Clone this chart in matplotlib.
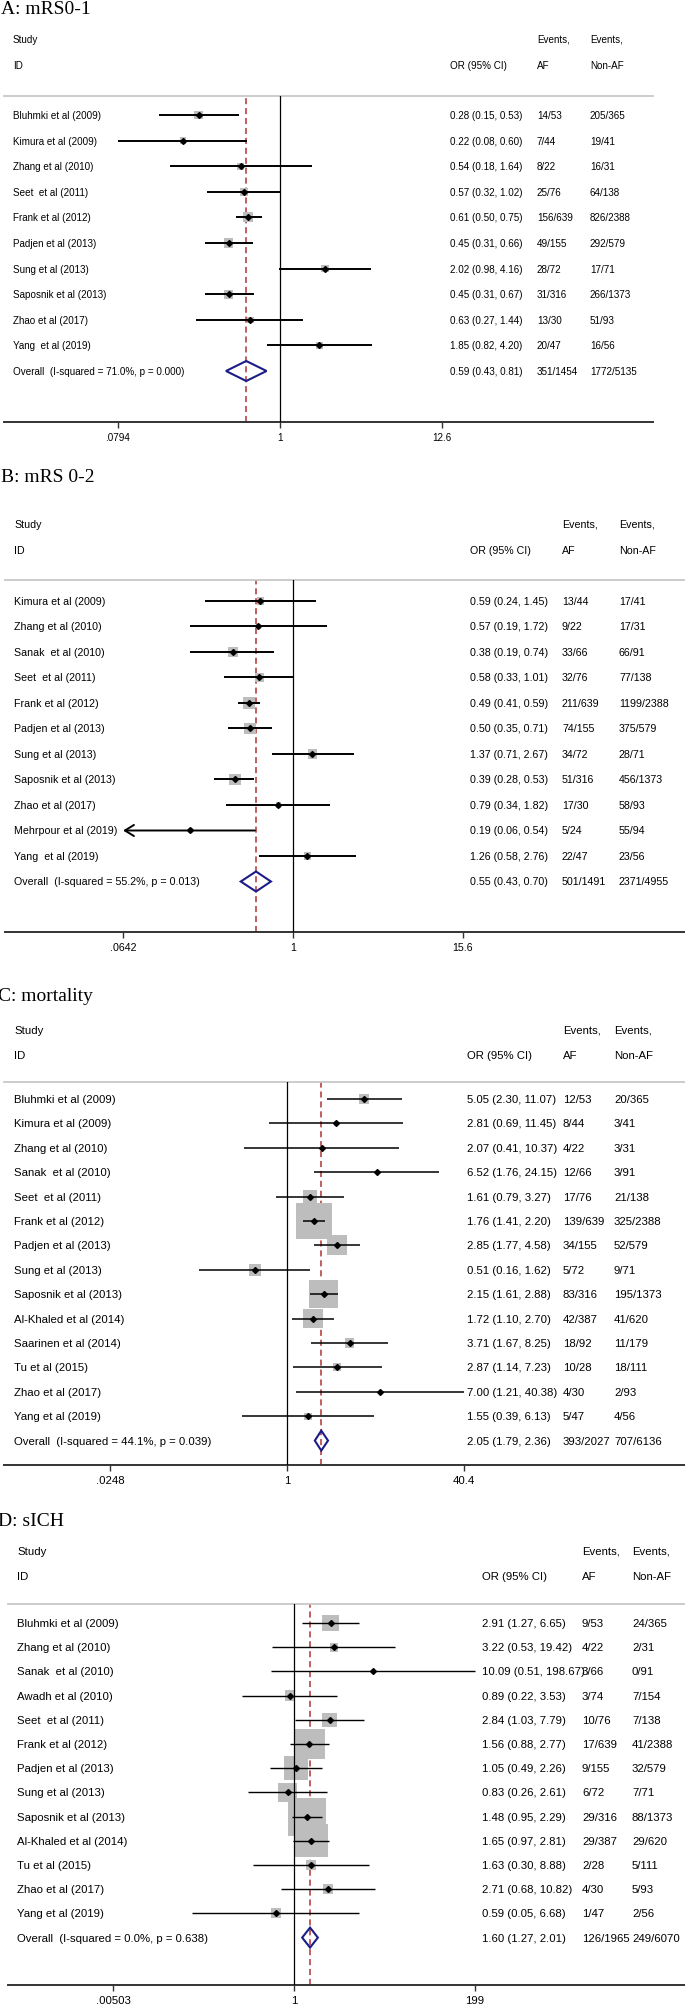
import numpy as np
import matplotlib.pyplot as plt
from matplotlib import transforms
from matplotlib.patches import Polygon

W, H, DPI = 685, 2008, 100
SANS = "Liberation Sans"
SERIF = "Liberation Serif"
BOX_GREY = "#bdbdbd"
RED = "#b03434"
NAVY = "#1c1c86"

# ---------------- A: mRS 0-1 ----------------
a_studies = ["Bluhmki et al (2009)", "Kimura et al (2009)", "Zhang et al (2010)", "Seet  et al (2011)",
             "Frank et al (2012)", "Padjen et al (2013)", "Sung et al (2013)", "Saposnik et al (2013)",
             "Zhao et al (2017)", "Yang  et al (2019)"]
a_or = [0.28, 0.22, 0.54, 0.57, 0.61, 0.45, 2.02, 0.45, 0.63, 1.85]
a_lo = [0.15, 0.08, 0.18, 0.32, 0.50, 0.31, 0.98, 0.31, 0.27, 0.82]
a_hi = [0.53, 0.60, 1.64, 1.02, 0.75, 0.66, 4.16, 0.67, 1.44, 4.20]
a_af = ["14/53", "7/44", "8/22", "25/76", "156/639", "49/155", "28/72", "31/316", "13/30", "20/47"]
a_naf = ["205/365", "19/41", "16/31", "64/138", "826/2388", "292/579", "17/71", "266/1373", "51/93", "16/56"]
a_wt = [11.7, 6.7, 7.8, 8.9, 15.9, 12.9, 8.9, 12.9, 6.7, 7.8]
a_overall = [0.59, 0.43, 0.81]
a_overall_events = ["351/1454", "1772/5135"]
a_het = [71.0, 0.000]
a_ticks = [0.0794, 1, 12.6]
a_ticklabels = [".0794", "1", "12.6"]

# ---------------- B: mRS 0-2 ----------------
b_studies = ["Kimura et al (2009)", "Zhang et al (2010)", "Sanak  et al (2010)", "Seet  et al (2011)",
             "Frank et al (2012)", "Padjen et al (2013)", "Sung et al (2013)", "Saposnik et al (2013)",
             "Zhao et al (2017)", "Mehrpour et al (2019)", "Yang  et al (2019)"]
b_or = [0.59, 0.57, 0.38, 0.58, 0.49, 0.50, 1.37, 0.39, 0.79, 0.19, 1.26]
b_lo = [0.24, 0.19, 0.19, 0.33, 0.41, 0.35, 0.71, 0.28, 0.34, 0.06, 0.58]
b_hi = [1.45, 1.72, 0.74, 1.01, 0.59, 0.71, 2.67, 0.53, 1.82, 0.54, 2.76]
b_af = ["13/44", "9/22", "33/66", "32/76", "211/639", "74/155", "34/72", "51/316", "17/30", "5/24", "22/47"]
b_naf = ["17/41", "17/31", "66/91", "77/138", "1199/2388", "375/579", "28/71", "456/1373", "58/93", "55/94", "23/56"]
b_wt = [6.3, 2.8, 10.4, 8.8, 17.1, 15.7, 10.4, 15.7, 3.7, 2.7, 6.3]
b_overall = [0.55, 0.43, 0.70]
b_overall_events = ["501/1491", "2371/4955"]
b_het = [55.2, 0.013]
b_ticks = [0.0642, 1, 15.6]
b_ticklabels = [".0642", "1", "15.6"]

# ---------------- C: mortality ----------------
c_studies = ["Bluhmki et al (2009)", "Kimura et al (2009)", "Zhang et al (2010)", "Sanak  et al (2010)",
             "Seet  et al (2011)", "Frank et al (2012)", "Padjen et al (2013)", "Sung et al (2013)",
             "Saposnik et al (2013)", "Al-Khaled et al (2014)", "Saarinen et al (2014)", "Tu et al (2015)",
             "Zhao et al (2017)", "Yang et al (2019)"]
c_or = [5.05, 2.81, 2.07, 6.52, 1.61, 1.76, 2.85, 0.51, 2.15, 1.72, 3.71, 2.87, 7.00, 1.55]
c_lo = [2.30, 0.69, 0.41, 1.76, 0.79, 1.41, 1.77, 0.16, 1.61, 1.10, 1.67, 1.14, 1.21, 0.39]
c_hi = [11.07, 11.45, 10.37, 24.15, 3.27, 2.20, 4.58, 1.62, 2.88, 2.70, 8.25, 7.23, 40.38, 6.13]
c_af = ["12/53", "8/44", "4/22", "12/66", "17/76", "139/639", "34/155", "5/72", "83/316", "42/387",
        "18/92", "10/28", "4/30", "5/47"]
c_naf = ["20/365", "3/41", "3/31", "3/91", "21/138", "325/2388", "52/579", "9/71", "195/1373", "41/620",
         "11/179", "18/111", "2/93", "4/56"]
c_wt = [2.7, 0.5, 0.2, 0.3, 5.4, 37.6, 11.0, 3.8, 22.3, 10.7, 2.3, 1.7, 0.2, 1.5]
c_overall = [2.05, 1.79, 2.36]
c_overall_events = ["393/2027", "707/6136"]
c_het = [44.1, 0.039]
c_ticks = [0.0248, 1, 40.4]
c_ticklabels = [".0248", "1", "40.4"]

# ---------------- D: sICH ----------------
d_studies = ["Bluhmki et al (2009)", "Zhang et al (2010)", "Sanak  et al (2010)", "Awadh et al (2010)",
             "Seet  et al (2011)", "Frank et al (2012)", "Padjen et al (2013)", "Sung et al (2013)",
             "Saposnik et al (2013)", "Al-Khaled et al (2014)", "Tu et al (2015)", "Zhao et al (2017)",
             "Yang et al (2019)"]
d_or = [2.91, 3.22, 10.09, 0.89, 2.84, 1.56, 1.05, 0.83, 1.48, 1.65, 1.63, 2.71, 0.59]
d_lo = [1.27, 0.53, 0.51, 0.22, 1.03, 0.88, 0.49, 0.26, 0.95, 0.97, 0.30, 0.68, 0.05]
d_hi = [6.65, 19.42, 198.67, 3.53, 7.79, 2.77, 2.26, 2.61, 2.29, 2.81, 8.88, 10.82, 6.68]
d_af = ["9/53", "4/22", "3/66", "3/74", "10/76", "17/639", "9/155", "6/72", "29/316", "29/387",
        "2/28", "4/30", "1/47"]
d_naf = ["24/365", "2/31", "0/91", "7/154", "7/138", "41/2388", "32/579", "7/71", "88/1373", "29/620",
         "5/111", "5/93", "2/56"]
d_wt = [4.8, 1.4, 0.0, 2.2, 3.9, 17.8, 10.7, 6.7, 26.8, 20.2, 1.9, 1.7, 1.9]
d_overall = [1.60, 1.27, 2.01]
d_overall_events = ["126/1965", "249/6070"]
d_het = [0.0, 0.638]
d_ticks = [0.00503, 1, 199]
d_ticklabels = [".00503", "1", "199"]

# layout in pixels of the 685x2008 canvas (y measured from the top)
PANELS = [
    dict(title="A: mRS0-1", studies=a_studies, orr=a_or, lo=a_lo, hi=a_hi, af=a_af, naf=a_naf, wt=a_wt,
         overall=a_overall, overall_events=a_overall_events, het=a_het, ticks=a_ticks, ticklabels=a_ticklabels,
         L=dict(title_x=1, title_y=9, study_y=40, id_y=66, sep_y=97, row0=116, step=25.6, axis_y=423,
                text_x=13, or_x=450, af_x=537, naf_x=590, x0=4, x1=653, null_x=280, ppd=147.3,
                fs=7.1, lw=1.4, box_k=2.51)),
    dict(title="B: mRS 0-2", studies=b_studies, orr=b_or, lo=b_lo, hi=b_hi, af=b_af, naf=b_naf, wt=b_wt,
         overall=b_overall, overall_events=b_overall_events, het=b_het, ticks=b_ticks, ticklabels=b_ticklabels,
         L=dict(title_x=1, title_y=478, study_y=525, id_y=551, sep_y=581, row0=602, step=25.5, axis_y=933,
                text_x=14, or_x=470, af_x=562, naf_x=619, x0=5, x1=685, null_x=293, ppd=142.5,
                fs=7.7, lw=1.4, box_k=2.97)),
    dict(title="C: mortality", studies=c_studies, orr=c_or, lo=c_lo, hi=c_hi, af=c_af, naf=c_naf, wt=c_wt,
         overall=c_overall, overall_events=c_overall_events, het=c_het, ticks=c_ticks, ticklabels=c_ticklabels,
         L=dict(title_x=-2, title_y=997, study_y=1031, id_y=1056, sep_y=1083, row0=1100, step=24.4, axis_y=1466,
                text_x=14, or_x=467, af_x=563, naf_x=614, x0=4, x1=685, null_x=287, ppd=110.0,
                fs=8.2, lw=1.1, box_k=6.03)),
    dict(title="D: sICH", studies=d_studies, orr=d_or, lo=d_lo, hi=d_hi, af=d_af, naf=d_naf, wt=d_wt,
         overall=d_overall, overall_events=d_overall_events, het=d_het, ticks=d_ticks, ticklabels=d_ticklabels,
         L=dict(title_x=-2, title_y=1522, study_y=1552, id_y=1577, sep_y=1605, row0=1624, step=24.2, axis_y=1986,
                text_x=17, or_x=482, af_x=582, naf_x=632, x0=8, x1=685, null_x=294, ppd=78.7,
                fs=8.2, lw=1.0, box_k=7.34)),
]

fig = plt.figure(figsize=(W / DPI, H / DPI), dpi=DPI)
top_px = transforms.Affine2D().scale(1 / W, -1 / H).translate(0, 1) + fig.transFigure


def draw_panel(p):
    L = p["L"]
    fs = L["fs"]
    ax = fig.add_axes([L["x0"] / W, 1 - L["axis_y"] / H,
                       (L["x1"] - L["x0"]) / W, (L["axis_y"] - L["sep_y"]) / H])
    ax.set_xscale("log")
    ax.set_xlim(10 ** ((L["x0"] - L["null_x"]) / L["ppd"]), 10 ** ((L["x1"] - L["null_x"]) / L["ppd"]))
    ax.set_ylim((L["axis_y"] - L["row0"]) / L["step"], -(L["row0"] - L["sep_y"]) / L["step"])

    for s in ["left", "right"]:
        ax.spines[s].set_visible(False)
    ax.spines["top"].set_color("#c8c8c8")
    ax.spines["top"].set_linewidth(1.3)
    ax.spines["bottom"].set_color("#333333")
    ax.spines["bottom"].set_linewidth(1.4)
    ax.set_yticks([])
    ax.xaxis.set_minor_locator(plt.NullLocator())
    ax.set_xticks(p["ticks"])
    ax.set_xticklabels(p["ticklabels"], fontfamily=SANS, fontsize=fs)
    ax.tick_params(axis="x", length=4, width=1, pad=3, color="#333333")

    n = len(p["studies"])
    ys = np.arange(n)
    orr = np.array(p["orr"])
    lo = np.array(p["lo"])
    hi = np.array(p["hi"])
    xmin, xmax = p["ticks"][0], p["ticks"][-1]

    ax.axvline(p["overall"][0], color=RED, lw=1.1, ls=(0, (4, 2.5)), zorder=1)
    side_pt = L["box_k"] * np.sqrt(np.array(p["wt"])) * 0.72
    ax.scatter(orr, ys, marker="s", s=side_pt ** 2, color=BOX_GREY, linewidths=0, zorder=2)
    ax.axvline(1, color="black", lw=0.9, zorder=3)

    for y, o, l, h in zip(ys, orr, lo, hi):
        h_c = min(h, xmax)
        if l < xmin:
            ax.annotate("", xy=(xmin, y), xytext=(h_c, y),
                        arrowprops=dict(arrowstyle="->,head_length=0.65,head_width=0.4", lw=L["lw"],
                                        color="black", shrinkA=0, shrinkB=0, mutation_scale=10), zorder=4)
        else:
            ax.hlines(y, l, h_c, color="black", lw=L["lw"], zorder=4)
    ax.plot(orr, ys, "D", color="black", ms=3.0, zorder=5)

    o, l, h = p["overall"]
    hh = 10 / L["step"]
    ax.add_patch(Polygon([(l, n), (o, n - hh), (h, n), (o, n + hh)], closed=True, fill=False,
                         edgecolor=NAVY, lw=1.5, zorder=5))

    # text columns
    row_tr = transforms.blended_transform_factory(top_px, ax.transData)
    kw = dict(fontfamily=SANS, fontsize=fs, va="center", ha="left", transform=row_tr, clip_on=False)
    labels = p["studies"] + ["Overall  (I-squared = %.1f%%, p = %.3f)" % tuple(p["het"])]
    ci_txt = ["%.2f (%.2f, %.2f)" % t for t in zip(orr, lo, hi)] + ["%.2f (%.2f, %.2f)" % tuple(p["overall"])]
    af = p["af"] + [p["overall_events"][0]]
    naf = p["naf"] + [p["overall_events"][1]]
    for i in range(n + 1):
        ax.text(L["text_x"], i, labels[i], **kw)
        ax.text(L["or_x"], i, ci_txt[i], **kw)
        ax.text(L["af_x"], i, af[i], **kw)
        ax.text(L["naf_x"], i, naf[i], **kw)

    hk = dict(fontfamily=SANS, fontsize=fs, va="center", ha="left", transform=top_px)
    fig.text(L["text_x"], L["study_y"], "Study", **hk)
    fig.text(L["text_x"], L["id_y"], "ID", **hk)
    fig.text(L["or_x"], L["id_y"], "OR (95% CI)", **hk)
    fig.text(L["af_x"], L["study_y"], "Events,", **hk)
    fig.text(L["af_x"], L["id_y"], "AF", **hk)
    fig.text(L["naf_x"], L["study_y"], "Events,", **hk)
    fig.text(L["naf_x"], L["id_y"], "Non-AF", **hk)
    fig.text(L["title_x"], L["title_y"], p["title"], fontfamily=SERIF, fontsize=14,
             va="center", ha="left", transform=top_px)


for p in PANELS:
    draw_panel(p)

fig.savefig("out.png", dpi=DPI)
